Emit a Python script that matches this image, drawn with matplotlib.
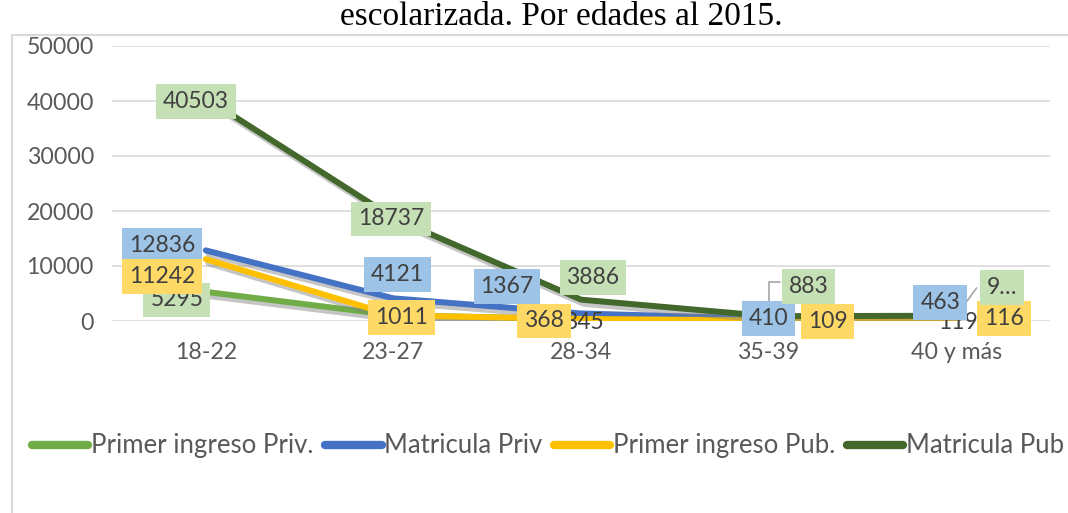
import matplotlib
matplotlib.use("Agg")
import matplotlib.pyplot as plt
import matplotlib.patheffects as pe
from matplotlib.patches import Rectangle

# data
edades = ["18-22", "23-27", "28-34", "35-39", "40 y más"]
primer_ingreso_priv = [5295, 1057, 345, 98, 119]
matricula_priv = [12836, 4121, 1367, 410, 463]
primer_ingreso_pub = [11242, 1011, 368, 109, 116]
matricula_pub = [40503, 18737, 3886, 883, 952]
y_ticks = [0, 10000, 20000, 30000, 40000, 50000]

series = [
    ("Primer ingreso Priv.", primer_ingreso_priv, "#70AD47", "#C5E0B4"),
    ("Matricula Priv", matricula_priv, "#4472C4", "#9DC3E6"),
    ("Primer ingreso Pub.", primer_ingreso_pub, "#FFC000", "#FFD966"),
    ("Matricula Pub", matricula_pub, "#43682B", "#C5E0B4"),
]

# label placement (pixel offsets from each point), None = label not shown
label_offsets = {
    "Primer ingreso Priv.": [(-29, -8), None, (3, -3), None, (2, -2)],
    "Matricula Priv": [(-44, 5), (4, 24), (-74, 27), (0, 0), (-16, 16)],
    "Primer ingreso Pub.": [(-44, -17), (8, -2), (-37, -2), (59, -1), (48, 2)],
    "Matricula Pub": [(-10, -3), (-2, -1), (12, 22), (40, 30), (46, 28)],
}
label_has_box = {
    "Primer ingreso Priv.": [True, False, False, False, False],
}
label_override = {("Matricula Pub", 4): "9…"}

FONT = "Lato"
plt.rcParams["font.family"] = [FONT, "DejaVu Sans"]

W, H = 1068, 513
fig = plt.figure(figsize=(W / 100, H / 100), dpi=100)

# chart border (runs off the right and bottom edge like the reference)
fig.patches.append(Rectangle((12 / W, -0.1), 1.2, 1.1 - 35 / H, transform=fig.transFigure,
                             fill=False, edgecolor="#D9D9D9", linewidth=1.5))

# title
fig.text(561 / W, 1 - 25 / H, "escolarizada. Por edades al 2015.", ha="center", va="baseline",
         fontsize=24, family="Liberation Serif", color="black")

ax = fig.add_axes([112 / W, 192 / H, 938 / W, 275 / H])
x = list(range(len(edades)))

for i, (name, vals, color, bg) in enumerate(series):
    ax.plot(x, vals, color=color, linewidth=4.3, solid_capstyle="round", label=name,
            zorder=3 + i,
            path_effects=[pe.SimpleLineShadow(offset=(2, -3), shadow_color="#808080", alpha=0.45),
                          pe.Normal()])

for i, (name, vals, color, bg) in enumerate(series):
    boxes = label_has_box.get(name, [True] * len(vals))
    for j, v in enumerate(vals):
        off = label_offsets[name][j]
        if off is None:
            continue
        txt = label_override.get((name, j), str(v))
        bbox = dict(boxstyle="square,pad=0.3", facecolor=bg, edgecolor="none") if boxes[j] else None
        ax.annotate(txt, (j, v), xytext=off, textcoords="offset pixels", ha="center",
                    va="center", fontsize=16.5, color="#404040", bbox=bbox, zorder=10 + i)

# leader lines
lc = "#A6A6A6"
ax.annotate("", (3, 883), xytext=(14, 34), textcoords="offset pixels",
            arrowprops=dict(arrowstyle="-", color=lc, lw=1.2, connectionstyle="angle,angleA=0,angleB=90"), zorder=9)
ax.annotate("", (4, 952), xytext=(22, 30), textcoords="offset pixels",
            arrowprops=dict(arrowstyle="-", color=lc, lw=1.2), zorder=9)

ax.set_xlim(-0.5, len(edades) - 0.5)
ax.set_ylim(0, 50000)
ax.set_yticks(y_ticks)
ax.set_xticks(x)
ax.set_xticklabels(edades)
ax.grid(axis="y", color="#D9D9D9", linewidth=1.2)
ax.set_axisbelow(True)
for s in ax.spines.values():
    s.set_visible(False)
ax.tick_params(length=0, labelsize=16.7, colors="#595959")
ax.tick_params(axis="y", pad=13)
ax.tick_params(axis="x", pad=15)

fig.legend(loc="center", bbox_to_anchor=(548 / W, 1 - 446 / H), ncol=4, frameon=False,
           fontsize=18.5, handlelength=2.2, handletextpad=0.1, columnspacing=0.45,
           labelcolor="#595959")
for line in fig.legends[0].get_lines():
    line.set_linewidth(6)
    line.set_path_effects([])

fig.savefig("out.png", dpi=100)
